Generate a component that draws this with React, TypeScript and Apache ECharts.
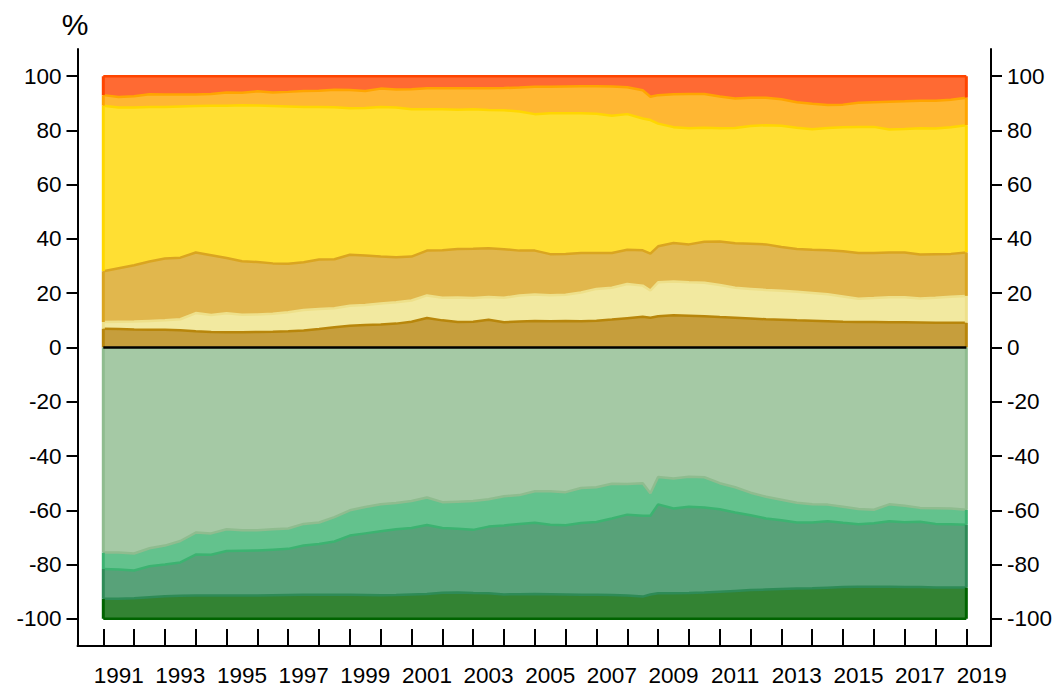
import React, { useEffect, useRef } from "react";
import * as echarts from "echarts";

// Time points (years, half-yearly plus one extra around the 2008 break)
const periods = [
  1991, 1991.5, 1992, 1992.5, 1993, 1993.5, 1994, 1994.5, 1995, 1995.5,
  1996, 1996.5, 1997, 1997.5, 1998, 1998.5, 1999, 1999.5, 2000, 2000.5,
  2001, 2001.5, 2002, 2002.5, 2003, 2003.5, 2004, 2004.5, 2005, 2005.5,
  2006, 2006.5, 2007, 2007.5, 2008, 2008.5, 2008.75, 2009, 2009.5, 2010,
  2010.5, 2011, 2011.5, 2012, 2012.5, 2013, 2013.5, 2014, 2014.5, 2015,
  2015.5, 2016, 2016.5, 2017, 2017.5, 2018, 2018.5, 2019,
];

// Cumulative upper edges of the positive layers (%)
const darkGoldTop = [
  6.9, 6.8, 6.6, 6.5, 6.5, 6.4, 6.0, 5.7, 5.6, 5.6,
  5.7, 5.8, 6.0, 6.3, 6.8, 7.5, 8.0, 8.3, 8.5, 8.8,
  9.5, 10.9, 10.0, 9.4, 9.5, 10.2, 9.3, 9.6, 9.8, 9.7,
  9.8, 9.7, 9.9, 10.3, 10.8, 11.3, 11.0, 11.5, 11.9, 11.7,
  11.5, 11.2, 11.0, 10.7, 10.4, 10.2, 10.0, 9.9, 9.7, 9.5,
  9.4, 9.4, 9.3, 9.3, 9.2, 9.1, 9.1, 9.1,
];
const paleTop = [
  9.4, 9.5, 9.6, 9.8, 10.0, 10.4, 12.7, 12.0, 12.6, 12.1,
  12.2, 12.4, 13.0, 13.8, 14.2, 14.5, 15.4, 15.7, 16.2, 16.7,
  17.3, 19.2, 18.3, 18.4, 18.2, 18.6, 18.3, 19.2, 19.5, 19.3,
  19.4, 20.3, 21.6, 22.0, 23.4, 22.8, 21.0, 24.0, 24.3, 24.0,
  23.9, 23.0, 22.0, 21.6, 21.2, 20.9, 20.5, 20.1, 19.6, 18.8,
  18.0, 18.2, 18.5, 18.5, 18.1, 18.3, 18.7, 19.0,
];
const tanTop = [
  28.1, 29.2, 30.3, 31.7, 32.8, 33.1, 35.0, 34.0, 33.0, 31.8,
  31.5, 31.0, 30.9, 31.4, 32.4, 32.5, 34.2, 33.9, 33.5, 33.3,
  33.5, 35.7, 35.8, 36.3, 36.4, 36.6, 36.2, 35.7, 35.7, 34.4,
  34.5, 34.8, 34.8, 34.8, 36.0, 35.8, 34.6, 37.3, 38.5, 38.0,
  39.0, 39.1, 38.4, 38.2, 38.0, 37.0, 36.3, 36.0, 35.8, 35.5,
  34.8, 34.8, 35.0, 35.0, 34.3, 34.4, 34.5, 35.0,
];
const yellowTop = [
  89.1, 88.4, 88.4, 88.6, 88.6, 88.8, 89.0, 89.1, 89.1, 89.3,
  89.2, 89.0, 88.8, 88.6, 88.6, 88.5, 88.2, 88.3, 88.6, 88.4,
  87.8, 87.8, 87.8, 87.6, 87.8, 87.5, 87.4, 87.0, 86.0, 86.3,
  86.3, 86.3, 86.1, 85.4, 86.0, 84.4, 83.8, 82.5, 81.2, 80.8,
  81.0, 80.8, 80.9, 81.6, 81.9, 81.7, 81.0, 80.4, 80.9, 81.2,
  81.3, 81.3, 80.3, 80.5, 80.8, 80.7, 81.2, 81.9,
];
const orangeTop = [
  93.0, 92.3, 92.6, 93.3, 93.2, 93.2, 93.2, 93.4, 94.0, 93.9,
  94.4, 94.0, 94.2, 94.5, 94.6, 95.0, 94.9, 94.5, 95.4, 95.1,
  95.2, 95.5, 95.5, 95.5, 95.5, 95.5, 95.6, 95.8, 96.1, 96.1,
  96.2, 96.3, 96.3, 96.2, 95.9, 94.8, 92.4, 93.0, 93.3, 93.4,
  93.4, 92.5, 91.8, 92.0, 92.0, 91.5, 90.4, 89.8, 89.4, 89.5,
  90.2, 90.4, 90.6, 90.7, 90.9, 90.9, 91.3, 92.0,
];
const redTop = periods.map(() => 100);

// Cumulative lower edges of the negative layers (%)
const lightGreenBottom = [
  -75.5, -75.5, -75.9, -74.0, -73.0, -71.3, -68.2, -68.5, -67.0, -67.3,
  -67.3, -67.0, -66.7, -65.0, -64.5, -62.5, -60.0, -58.8, -57.8, -57.3,
  -56.6, -55.3, -57.0, -56.8, -56.6, -55.9, -54.8, -54.4, -53.0, -53.0,
  -53.3, -51.8, -51.5, -50.2, -50.3, -50.0, -53.7, -47.7, -48.3, -47.6,
  -47.8, -50.0, -51.5, -53.5, -55.0, -56.1, -57.2, -57.8, -57.9, -58.7,
  -59.5, -59.8, -57.8, -58.3, -59.1, -59.2, -59.3, -59.8,
];
const brightGreenBottom = [
  -81.6, -81.8, -82.2, -80.6, -80.0, -79.2, -76.3, -76.4, -75.0, -74.9,
  -74.8, -74.5, -74.2, -73.0, -72.4, -71.5, -69.3, -68.5, -67.7, -67.0,
  -66.5, -65.4, -66.5, -66.8, -67.2, -66.0, -65.6, -65.0, -64.6, -65.3,
  -65.5, -64.7, -64.3, -63.0, -61.6, -62.0, -62.0, -57.8, -59.3, -58.7,
  -59.0, -59.6, -60.8, -61.8, -63.0, -63.7, -64.5, -64.5, -64.0, -64.6,
  -65.1, -64.8, -64.0, -64.4, -64.2, -65.0, -65.1, -65.3,
];
const seaGreenBottom = [
  -92.6, -92.6, -92.4, -92.0, -91.7, -91.5, -91.4, -91.4, -91.4, -91.4,
  -91.4, -91.3, -91.2, -91.1, -91.1, -91.1, -91.1, -91.2, -91.3, -91.2,
  -91.0, -90.8, -90.4, -90.3, -90.5, -90.6, -91.0, -90.9, -90.8, -90.9,
  -91.0, -91.1, -91.1, -91.2, -91.4, -91.8, -91.0, -90.6, -90.6, -90.5,
  -90.3, -90.0, -89.7, -89.4, -89.2, -89.0, -88.8, -88.7, -88.5, -88.3,
  -88.2, -88.2, -88.2, -88.3, -88.3, -88.4, -88.4, -88.4,
];
const darkGreenBottom = periods.map(() => -100);

const yTicks = [-100, -80, -60, -40, -20, 0, 20, 40, 60, 80, 100];
const xTickYears = Array.from({ length: 29 }, (_, i) => 1991 + i);
const xLabelYears = [1991, 1993, 1995, 1997, 1999, 2001, 2003, 2005, 2007, 2009, 2011, 2013, 2015, 2017, 2019];

const FONT = "'Liberation Sans', Arial, sans-serif";

export default function App() {
  const ref = useRef<HTMLDivElement>(null);

  useEffect(() => {
    if (!ref.current) return;
    const chart = echarts.init(ref.current, null, { renderer: "svg" });

    const zeros = periods.map(() => 0);

    // Drawn from the outermost edge inwards; each opaque area fills to 0,
    // so the inner ones cover the outer ones and form the bands.
    const layers = [
      { edge: redTop, inner: orangeTop, stroke: "#FF4500", fill: "#FF6A33" },
      { edge: orangeTop, inner: yellowTop, stroke: "#FFA500", fill: "#FFB733" },
      { edge: yellowTop, inner: tanTop, stroke: "#FFD700", fill: "#FFDF33" },
      { edge: tanTop, inner: paleTop, stroke: "#DAA520", fill: "#E1B74D" },
      { edge: paleTop, inner: darkGoldTop, stroke: "#EEE08A", fill: "#F2E9A0" },
      { edge: darkGoldTop, inner: zeros, stroke: "#B8860B", fill: "#C69E3C" },
      { edge: darkGreenBottom, inner: seaGreenBottom, stroke: "#006400", fill: "#338333" },
      { edge: seaGreenBottom, inner: brightGreenBottom, stroke: "#2E8B57", fill: "#58A279" },
      { edge: brightGreenBottom, inner: lightGreenBottom, stroke: "#3CB371", fill: "#63C28D" },
      { edge: lightGreenBottom, inner: zeros, stroke: "#8FBC8F", fill: "#A5C9A5" },
    ];

    const areaSeries: any[] = layers.map((l) => ({
      type: "line",
      showSymbol: false,
      symbol: "none",
      data: periods.map((t, i) => [t, l.edge[i]]),
      lineStyle: { color: l.stroke, width: 2.5 },
      areaStyle: { color: l.fill, opacity: 1, origin: 0 },
      itemStyle: { color: l.stroke },
      z: 2,
    }));

    const last = periods.length - 1;
    const edgeSeries: any[] = [];
    layers.forEach((l) => {
      [0, last].forEach((i) => {
        edgeSeries.push({
          type: "line",
          showSymbol: false,
          symbol: "none",
          data: [
            [periods[i], l.inner[i]],
            [periods[i], l.edge[i]],
          ],
          lineStyle: { color: l.stroke, width: 3 },
          z: 3,
        });
      });
    });

    const zeroLine = {
      type: "line",
      showSymbol: false,
      symbol: "none",
      data: [
        [periods[0], 0],
        [periods[last], 0],
      ],
      lineStyle: { color: "#000", width: 2.5 },
      z: 5,
    };

    const yAxisBase = (position: "left" | "right") => ({
      type: "value",
      position,
      min: -110,
      max: 110,
      axisLine: { show: true, onZero: false, lineStyle: { color: "#000", width: 2 } },
      axisTick: {
        show: true,
        length: 11,
        customValues: yTicks,
        lineStyle: { color: "#000", width: 2 },
      },
      axisLabel: {
        customValues: yTicks,
        color: "#000",
        fontSize: 22.5,
        fontFamily: FONT,
        margin: 16,
      },
      splitLine: { show: false },
    });

    chart.setOption({
      animation: false,
      backgroundColor: "#fff",
      grid: { left: 77.5, right: 71, top: 49, bottom: 48 },
      xAxis: {
        type: "value",
        min: 1990.163,
        max: 2019.8,
        axisLine: { show: true, onZero: false, lineStyle: { color: "#000", width: 2 } },
        axisTick: {
          show: true,
          inside: true,
          length: 17,
          customValues: xTickYears,
          lineStyle: { color: "#000", width: 2 },
        },
        axisLabel: {
          customValues: xLabelYears.map((y) => y + 0.5),
          formatter: (v: number) => String(Math.floor(v)),
          color: "#000",
          fontSize: 22.5,
          fontFamily: FONT,
          margin: 18,
        },
        splitLine: { show: false },
      },
      yAxis: [yAxisBase("left"), yAxisBase("right")],
      graphic: [
        {
          type: "text",
          x: 75,
          y: 24,
          style: {
            text: "%",
            fontSize: 30,
            fontFamily: FONT,
            fill: "#000",
            align: "center",
            verticalAlign: "middle",
          },
        },
      ],
      series: [...areaSeries, ...edgeSeries, zeroLine],
    });

    return () => chart.dispose();
  }, []);

  return (
    <div
      ref={ref}
      style={{ position: "fixed", left: 0, top: 0, width: 1062, height: 694 }}
    />
  );
}
